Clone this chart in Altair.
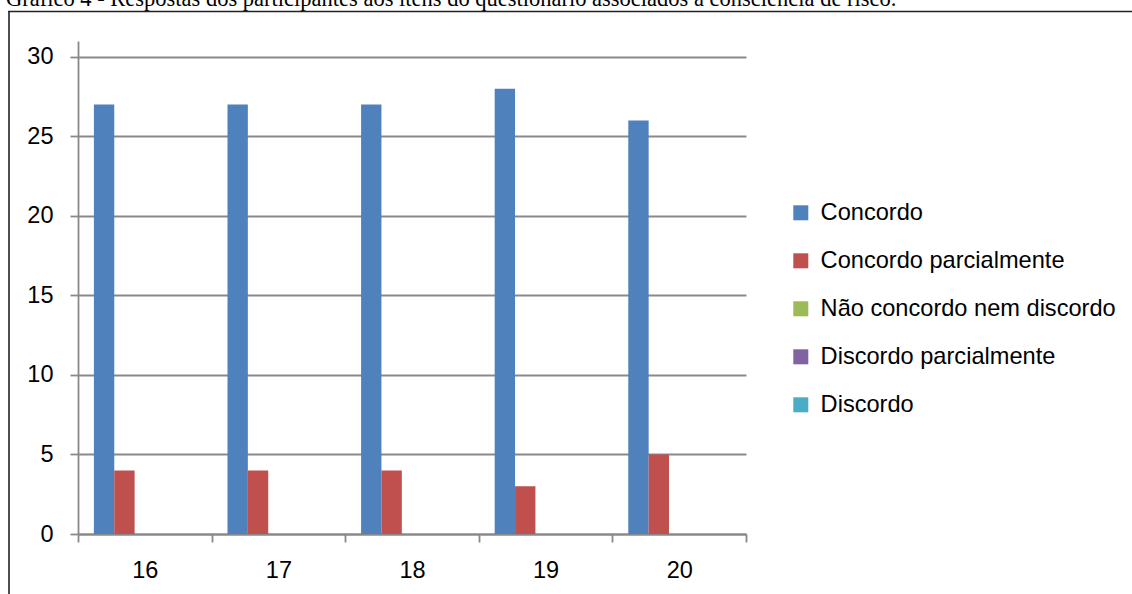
import altair as alt
import pandas as pd

# Survey items (questionnaire numbers) and answer categories
items = ["16", "17", "18", "19", "20"]
series = [
    "Concordo",
    "Concordo parcialmente",
    "Não concordo nem discordo",
    "Discordo parcialmente",
    "Discordo",
]
colors = ["#4F81BD", "#C0504D", "#9BBB59", "#8064A2", "#4BACC6"]

concordo = [27, 27, 27, 28, 26]
concordo_parcialmente = [4, 4, 4, 3, 5]
nao_concordo_nem_discordo = [0, 0, 0, 0, 0]
discordo_parcialmente = [0, 0, 0, 0, 0]
discordo = [0, 0, 0, 0, 0]

y_ticks = [0, 5, 10, 15, 20, 25, 30]
caption = ("Gráfico 4 - Respostas dos participantes aos itens do questionário "
           "associados à consciência de risco.")

values_by_series = [concordo, concordo_parcialmente, nao_concordo_nem_discordo,
                    discordo_parcialmente, discordo]
rows = []
for name, vals in zip(series, values_by_series):
    for item, v in zip(items, vals):
        rows.append({"item": item, "resposta": name, "valor": v})
df = pd.DataFrame(rows)

W, H = 668, 493
LEFT, TOP = 78, 41
AXIS_GRAY = "#898989"
SANS = "Liberation Sans"

bars = alt.Chart(df).mark_bar().encode(
    x=alt.X(
        "item:N",
        sort=items,
        scale=alt.Scale(paddingInner=0, paddingOuter=0),
        axis=alt.Axis(
            title=None,
            labelAngle=0,
            labelFont=SANS,
            labelFontSize=23.5,
            labelColor="black",
            labelPadding=16,
            tickBand="extent",
            tickSize=8,
            tickColor=AXIS_GRAY,
            tickWidth=1.8,
            domainColor=AXIS_GRAY,
            domainWidth=1.8,
            grid=False,
        ),
    ),
    xOffset=alt.XOffset(
        "resposta:N",
        sort=series,
        scale=alt.Scale(paddingInner=0, paddingOuter=0.78),
    ),
    y=alt.Y(
        "valor:Q",
        scale=alt.Scale(domain=[0, 31], nice=False),
        axis=alt.Axis(
            title=None,
            values=y_ticks,
            labelFont=SANS,
            labelFontSize=23.5,
            labelColor="black",
            labelPadding=17,
            tickSize=8,
            tickColor=AXIS_GRAY,
            tickWidth=1.8,
            domainColor=AXIS_GRAY,
            domainWidth=1.8,
            grid=True,
            gridColor=AXIS_GRAY,
            gridWidth=1.8,
        ),
    ),
    color=alt.Color(
        "resposta:N",
        sort=series,
        scale=alt.Scale(domain=series, range=colors),
        legend=alt.Legend(
            title=None,
            orient="none",
            legendX=711,
            legendY=160,
            padding=0,
            symbolType="square",
            symbolSize=225,
            symbolStrokeWidth=0,
            labelFont=SANS,
            labelFontSize=23.6,
            labelColor="black",
            labelOffset=8,
            labelLimit=400,
            rowPadding=23,
        ),
    ),
)

frame_df = pd.DataFrame({"k": [0]})
frame_left = alt.Chart(frame_df).mark_rule(color="#222222", strokeWidth=1.6).encode(
    x=alt.value(9 - LEFT), y=alt.value(11.5 - TOP), y2=alt.value(594 - TOP + 10)
)
frame_top = alt.Chart(frame_df).mark_rule(color="#222222", strokeWidth=1.6).encode(
    x=alt.value(8 - LEFT), x2=alt.value(1132 - LEFT + 10), y=alt.value(11.5 - TOP)
)

caption_df = pd.DataFrame({"t": [caption]})
caption_text = alt.Chart(caption_df).mark_text(
    font="Liberation Serif", fontSize=22.5, align="left", baseline="alphabetic",
    color="black",
).encode(x=alt.value(6 - LEFT), y=alt.value(6 - TOP), text="t:N")

chart = alt.layer(bars, frame_left, frame_top, caption_text).properties(
    width=W,
    height=H,
    autosize=alt.AutoSizeParams(type="none"),
    padding={"left": LEFT, "top": TOP, "right": 1132 - LEFT - W, "bottom": 594 - TOP - H},
    background="white",
).configure_view(strokeWidth=0)

chart.save("out.html", embed_options={"renderer": "svg", "actions": False})
